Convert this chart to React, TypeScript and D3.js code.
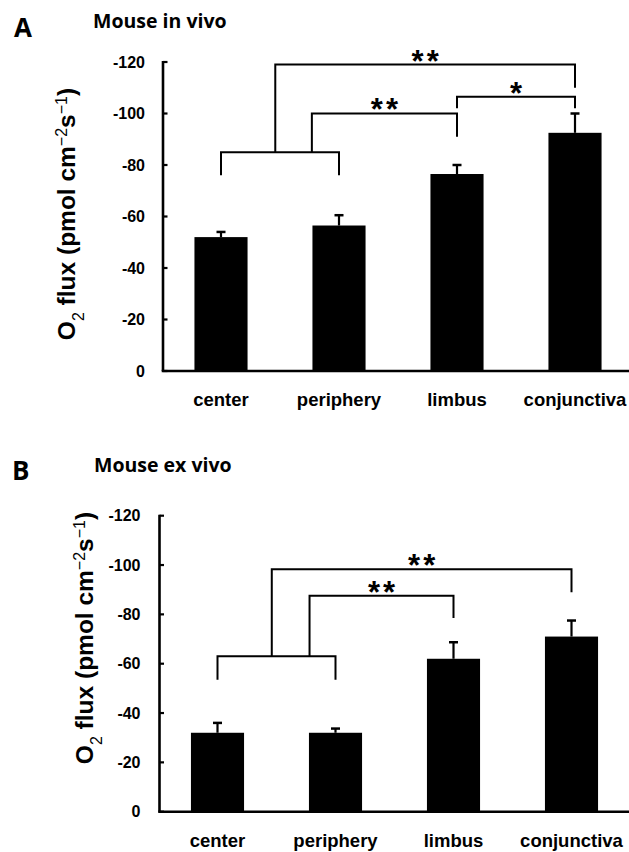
import React, { useEffect, useRef } from 'react';
import * as d3 from 'd3';

const categories = ['center', 'periphery', 'limbus', 'conjunctiva'];
const yTicks = [0, -20, -40, -60, -80, -100, -120];

// Mouse in vivo
const inVivoFlux = [-52, -56.5, -76.5, -92.5];
const inVivoErr = [-2, -4, -3.5, -7.5];
// Mouse ex vivo
const exVivoFlux = [-32, -32, -62, -71];
const exVivoErr = [-4, -1.7, -6.7, -6.5];

// brackets: x1/x2 are category positions (index), level/end1/end2 in flux units
const inVivoBrackets = [
  { x1: 0, x2: 1, level: -85, end1: -76, end2: -76, label: '' },
  { x1: 0.77, x2: 2, level: -100, end1: -85, end2: -91, label: '**' },
  { x1: 0.46, x2: 3, level: -119, end1: -85, end2: -110, label: '**' },
  { x1: 2, x2: 3, level: -106.5, end1: -102, end2: -102, label: '*' },
];
const exVivoBrackets = [
  { x1: 0, x2: 1, level: -63, end1: -53.5, end2: -53.5, label: '' },
  { x1: 0.78, x2: 2, level: -87.5, end1: -63, end2: -78.5, label: '**' },
  { x1: 0.46, x2: 3, level: -98.3, end1: -63, end2: -89, label: '**' },
];

const ARIAL = 'Liberation Sans, Arial, sans-serif';
const CALIBRI = 'Open Sans, Carlito, Calibri, sans-serif';

const drawPanel = (svg, p) => {
  const g = svg.append('g');

  const x = d3.scaleBand()
    .domain(categories)
    .range([p.axisX - 1, p.axisX - 1 + 472])
    .paddingInner(0.55)
    .paddingOuter(0.275);

  const y = d3.scaleLinear()
    .domain([0, -120])
    .range([p.y0, p.yTop]);

  const pos = (i) => x(categories[0]) + x.bandwidth() / 2 + i * x.step();

  // bars
  g.selectAll('rect.bar')
    .data(p.values)
    .enter()
    .append('rect')
    .attr('x', (d, i) => x(categories[i]))
    .attr('y', d => y(d))
    .attr('width', x.bandwidth())
    .attr('height', d => y(0) - y(d))
    .attr('fill', '#000');

  // error bars (upper only)
  p.values.forEach((v, i) => {
    const cx = pos(i);
    g.append('line')
      .attr('x1', cx).attr('x2', cx)
      .attr('y1', y(v)).attr('y2', y(v + p.errors[i]))
      .attr('stroke', '#000').attr('stroke-width', 2.2);
    g.append('line')
      .attr('x1', cx - 4.5).attr('x2', cx + 4.5)
      .attr('y1', y(v + p.errors[i])).attr('y2', y(v + p.errors[i]))
      .attr('stroke', '#000').attr('stroke-width', 2.5);
  });

  // y axis
  g.append('line')
    .attr('x1', p.axisX).attr('x2', p.axisX)
    .attr('y1', y(-120) - 1).attr('y2', y(0))
    .attr('stroke', '#000').attr('stroke-width', 2.6);
  yTicks.forEach(t => {
    g.append('line')
      .attr('x1', p.axisX).attr('x2', p.axisX + 4.5)
      .attr('y1', y(t)).attr('y2', y(t))
      .attr('stroke', '#000').attr('stroke-width', 2.2);
    g.append('text')
      .attr('x', p.axisX - p.tickGap)
      .attr('y', y(t))
      .attr('dy', '0.36em')
      .attr('text-anchor', 'end')
      .attr('font-family', ARIAL)
      .attr('font-weight', 'bold')
      .attr('font-size', 16)
      .text(t);
  });

  // x axis
  g.append('line')
    .attr('x1', p.axisX - 1.3).attr('x2', 629)
    .attr('y1', y(0)).attr('y2', y(0))
    .attr('stroke', '#000').attr('stroke-width', 2.6);
  categories.forEach((c, i) => {
    g.append('text')
      .attr('x', pos(i))
      .attr('y', y(0) + 35)
      .attr('text-anchor', 'middle')
      .attr('font-family', ARIAL)
      .attr('font-weight', 'bold')
      .attr('font-size', 18.5)
      .text(c);
  });

  // significance brackets
  p.brackets.forEach(b => {
    const path = d3.path();
    path.moveTo(pos(b.x1), y(b.end1));
    path.lineTo(pos(b.x1), y(b.level));
    path.lineTo(pos(b.x2), y(b.level));
    path.lineTo(pos(b.x2), y(b.end2));
    g.append('path')
      .attr('d', path.toString())
      .attr('fill', 'none')
      .attr('stroke', '#000')
      .attr('stroke-width', 2);
    if (b.label) {
      g.append('text')
        .attr('x', (pos(b.x1) + pos(b.x2)) / 2 + 1.5)
        .attr('y', y(b.level) - 11 + 0.58 * 31)
        .attr('text-anchor', 'middle')
        .attr('font-family', ARIAL)
        .attr('font-weight', 'bold')
        .attr('font-size', 31)
        .attr('letter-spacing', 3)
        .text(b.label);
    }
  });

  // panel letter and title
  g.append('text')
    .attr('x', p.letterX).attr('y', p.letterY)
    .attr('font-family', CALIBRI).attr('font-weight', 'bold').attr('font-size', 26)
    .text(p.letter);
  g.append('text')
    .attr('x', p.titleX).attr('y', p.titleY)
    .attr('font-family', CALIBRI).attr('font-weight', 'bold').attr('font-size', 19.5)
    .text(p.title);

  // y axis label
  const yl = g.append('text')
    .attr('transform', `translate(${p.labelX},${p.labelY}) rotate(-90)`)
    .attr('text-anchor', 'middle')
    .attr('font-family', ARIAL)
    .attr('font-weight', 'bold')
    .attr('font-size', 24.5);
  yl.append('tspan').text('O');
  yl.append('tspan').attr('baseline-shift', 'sub').attr('font-size', 16).attr('font-weight', 'normal').text('2');
  yl.append('tspan').text(' flux (pmol cm');
  yl.append('tspan').attr('baseline-shift', 'super').attr('font-size', 16).attr('font-weight', 'normal').text('\u22122');
  yl.append('tspan').text('s');
  yl.append('tspan').attr('baseline-shift', 'super').attr('font-size', 16).attr('font-weight', 'normal').text('\u22121');
  yl.append('tspan').text(')');
};

const App = () => {
  const chartRef = useRef(null);

  useEffect(() => {
    const svg = d3.select(chartRef.current);
    svg.selectAll('*').remove();
    drawPanel(svg, {
      letter: 'A', title: 'Mouse in vivo',
      values: inVivoFlux, errors: inVivoErr, brackets: inVivoBrackets,
      axisX: 163, y0: 371, yTop: 62, tickGap: 18,
      letterX: 14, letterY: 37, titleX: 93, titleY: 28,
      labelX: 75, labelY: 214,
    });
    drawPanel(svg, {
      letter: 'B', title: 'Mouse ex vivo',
      values: exVivoFlux, errors: exVivoErr, brackets: exVivoBrackets,
      axisX: 159.5, y0: 811.7, yTop: 515.7, tickGap: 19,
      letterX: 12, letterY: 480, titleX: 94, titleY: 471.5,
      labelX: 92.5, labelY: 638,
    });
  }, []);

  return (
    <svg
      ref={chartRef}
      width={629}
      height={852}
      style={{ position: 'absolute', left: 0, top: 0, background: '#fff' }}
    />
  );
};

export default App;
